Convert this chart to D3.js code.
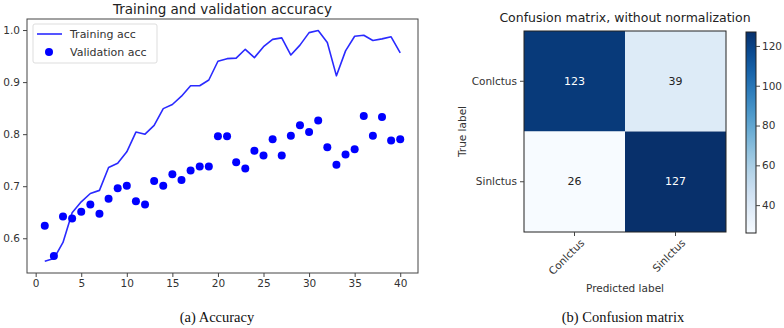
<!DOCTYPE html>
<html lang="en">
<head>
    <meta charset="UTF-8">
    <title>Accuracy and confusion matrix</title>
    <script src="https://cdn.jsdelivr.net/npm/d3@7"></script>
    <style>
        body { margin: 0; background: #fff; }
        text { font-family: "DejaVu Sans", sans-serif; }
    </style>
</head>
<body>
    <svg id="svg" width="784" height="328"></svg>
    <script>
        // accuracy per epoch
        const epochs = d3.range(1, 41)
        const trainAcc = [0.556, 0.561, 0.592, 0.649, 0.670, 0.686, 0.692, 0.736, 0.744, 0.766,
                          0.804, 0.800, 0.817, 0.849, 0.857, 0.873, 0.893, 0.893, 0.904, 0.940,
                          0.945, 0.946, 0.963, 0.947, 0.968, 0.982, 0.985, 0.952, 0.971, 0.995,
                          0.999, 0.976, 0.912, 0.960, 0.988, 0.990, 0.980, 0.983, 0.987, 0.956]
        const valAcc = [0.624, 0.566, 0.642, 0.638, 0.651, 0.665, 0.647, 0.676, 0.696, 0.701,
                        0.671, 0.665, 0.710, 0.701, 0.723, 0.712, 0.730, 0.738, 0.738, 0.796,
                        0.796, 0.746, 0.734, 0.768, 0.759, 0.790, 0.759, 0.797, 0.817, 0.804,
                        0.826, 0.775, 0.741, 0.761, 0.771, 0.835, 0.797, 0.833, 0.788, 0.790]
        const xTicks = [0, 5, 10, 15, 20, 25, 30, 35, 40]
        const yTicks = [0.6, 0.7, 0.8, 0.9, 1.0]

        // confusion matrix
        const classes = ['Conlctus', 'Sinlctus']
        const matrix = [[123, 39], [26, 127]]
        const cbarTicks = [40, 60, 80, 100, 120]

        const svg = d3.select("#svg")
        const axisColor = "#444"
        const labelColor = "#333"

        // ---------- (a) accuracy ----------
        const A = {left: 27, right: 418, top: 19, bottom: 273}
        const xScale = d3.scaleLinear().domain([-0.95, 41.95]).range([A.left, A.right])
        const yScale = d3.scaleLinear().domain([0.5333, 1.0212]).range([A.bottom, A.top])

        const ga = svg.append("g").attr("class", "acc")

        const xAxis = d3.axisBottom(xScale).tickValues(xTicks).tickSize(4).tickPadding(3)
        const yAxis = d3.axisLeft(yScale).tickValues(yTicks).tickSize(4).tickPadding(3).tickFormat(d3.format(".1f"))

        ga.append("g").attr("transform", `translate(0, ${A.bottom})`).call(xAxis).attr("class", "x_axis")
        ga.append("g").attr("transform", `translate(${A.left}, 0)`).call(yAxis).attr("class", "y_axis")

        ga.selectAll(".domain").remove()
        ga.selectAll(".tick line").attr("stroke", axisColor)
        ga.selectAll(".tick text").attr("fill", labelColor).style("font-size", "10.5px").style("font-family", "DejaVu Sans")

        const line = d3.line().x((d, i) => xScale(epochs[i])).y(d => yScale(d))
        ga.append("path").datum(trainAcc)
          .attr("d", line)
          .attr("fill", "none")
          .attr("stroke", "#2a2aff")
          .attr("stroke-width", 1.6)
          .attr("stroke-linejoin", "round")

        ga.selectAll(".val_dot").data(valAcc).join("circle")
          .attr("class", "val_dot")
          .attr("cx", (d, i) => xScale(epochs[i]))
          .attr("cy", d => yScale(d))
          .attr("r", 4)
          .attr("fill", "#0000ff")

        ga.append("rect")
          .attr("x", A.left).attr("y", A.top)
          .attr("width", A.right - A.left).attr("height", A.bottom - A.top)
          .attr("fill", "none").attr("stroke", axisColor).attr("stroke-width", 1)

        ga.append("text")
          .attr("x", (A.left + A.right) / 2).attr("y", 14)
          .attr("text-anchor", "middle")
          .style("font-size", "13.5px").attr("fill", "#222")
          .text("Training and validation accuracy")

        // legend
        const lg = ga.append("g").attr("class", "legend")
        lg.append("rect").attr("x", 33).attr("y", 24).attr("width", 124).attr("height", 39)
          .attr("rx", 2).attr("fill", "#fff").attr("stroke", "#ddd")
        lg.append("line").attr("x1", 37).attr("x2", 62).attr("y1", 34).attr("y2", 34)
          .attr("stroke", "#2a2aff").attr("stroke-width", 1.6)
        lg.append("circle").attr("cx", 49).attr("cy", 52).attr("r", 4).attr("fill", "#0000ff")
        lg.append("text").attr("x", 70).attr("y", 38).style("font-size", "11px").attr("fill", labelColor).text("Training acc")
        lg.append("text").attr("x", 70).attr("y", 56).style("font-size", "11px").attr("fill", labelColor).text("Validation acc")

        // ---------- (b) confusion matrix ----------
        const C = {left: 524, right: 726, top: 31, bottom: 232}
        const cx = d3.scaleBand().domain(classes).range([C.left, C.right])
        const cy = d3.scaleBand().domain(classes).range([C.top, C.bottom])
        const vmin = d3.min(matrix.flat()), vmax = d3.max(matrix.flat())
        const color = d3.scaleSequential(d3.interpolateBlues).domain([vmin, vmax])

        const cells = matrix.flatMap((row, i) => row.map((v, j) => ({row: classes[i], col: classes[j], v})))
        const gc = svg.append("g").attr("class", "cm")

        gc.selectAll(".cell").data(cells).join("rect")
          .attr("class", "cell")
          .attr("x", d => cx(d.col)).attr("y", d => cy(d.row))
          .attr("width", cx.bandwidth()).attr("height", cy.bandwidth())
          .attr("fill", d => color(d.v))

        gc.selectAll(".cell_text").data(cells).join("text")
          .attr("class", "cell_text")
          .attr("x", d => cx(d.col) + cx.bandwidth() / 2)
          .attr("y", d => cy(d.row) + cy.bandwidth() / 2)
          .attr("text-anchor", "middle").attr("dominant-baseline", "central")
          .style("font-size", "11px")
          .attr("fill", d => d.v > vmax / 2 ? "#fff" : "#222")
          .text(d => d.v)

        gc.append("rect")
          .attr("x", C.left).attr("y", C.top)
          .attr("width", C.right - C.left).attr("height", C.bottom - C.top)
          .attr("fill", "none").attr("stroke", "#222").attr("stroke-width", 1)

        const cxAxis = d3.axisBottom(cx).tickSize(4).tickPadding(3)
        const cyAxis = d3.axisLeft(cy).tickSize(4).tickPadding(3)
        const gxa = gc.append("g").attr("transform", `translate(0, ${C.bottom})`).call(cxAxis)
        const gya = gc.append("g").attr("transform", `translate(${C.left}, 0)`).call(cyAxis)
        gc.selectAll(".domain").remove()
        gc.selectAll(".tick line").attr("stroke", axisColor)
        gc.selectAll(".tick text").attr("fill", labelColor).style("font-size", "10.5px").style("font-family", "DejaVu Sans")
        gxa.selectAll(".tick text")
          .attr("text-anchor", "end")
          .attr("dy", "0.35em")
          .attr("transform", "translate(3, 4) rotate(-45)")

        gc.append("text")
          .attr("x", (C.left + C.right) / 2).attr("y", 22)
          .attr("text-anchor", "middle")
          .style("font-size", "12.5px").attr("fill", "#222")
          .text("Confusion matrix, without normalization")

        gc.append("text")
          .attr("x", (C.left + C.right) / 2).attr("y", 292)
          .attr("text-anchor", "middle")
          .style("font-size", "10.5px").attr("fill", labelColor)
          .text("Predicted label")

        gc.append("text")
          .attr("transform", `translate(466, ${(C.top + C.bottom) / 2}) rotate(-90)`)
          .attr("text-anchor", "middle")
          .style("font-size", "10.5px").attr("fill", labelColor)
          .text("True label")

        // colorbar
        const cb = {left: 746, width: 10, top: 32, bottom: 233}
        const cbScale = d3.scaleLinear().domain([vmin, vmax]).range([cb.bottom, cb.top])
        const defs = svg.append("defs")
        const grad = defs.append("linearGradient").attr("id", "cbgrad")
          .attr("x1", 0).attr("y1", 1).attr("x2", 0).attr("y2", 0)
        d3.range(0, 1.0001, 0.1).forEach(t => {
            grad.append("stop").attr("offset", t).attr("stop-color", d3.interpolateBlues(t))
        })
        gc.append("rect")
          .attr("x", cb.left).attr("y", cb.top)
          .attr("width", cb.width).attr("height", cb.bottom - cb.top)
          .attr("fill", "url(#cbgrad)").attr("stroke", "#222").attr("stroke-width", 1)
        const cbAxis = d3.axisRight(cbScale).tickValues(cbarTicks).tickSize(4).tickPadding(2)
        const gcb = gc.append("g").attr("transform", `translate(${cb.left + cb.width}, 0)`).call(cbAxis)
        gcb.select(".domain").remove()
        gcb.selectAll(".tick line").attr("stroke", axisColor)
        gcb.selectAll(".tick text").attr("fill", labelColor).style("font-size", "10.5px").style("font-family", "DejaVu Sans")

        // captions
        svg.append("text").attr("x", 217).attr("y", 322).attr("text-anchor", "middle")
          .style("font-family", "'Liberation Serif', serif").style("font-size", "14.5px").attr("fill", "#111")
          .text("(a) Accuracy")
        svg.append("text").attr("x", 623).attr("y", 322).attr("text-anchor", "middle")
          .style("font-family", "'Liberation Serif', serif").style("font-size", "14.5px").attr("fill", "#111")
          .text("(b) Confusion matrix")
    </script>
</body>
</html>
